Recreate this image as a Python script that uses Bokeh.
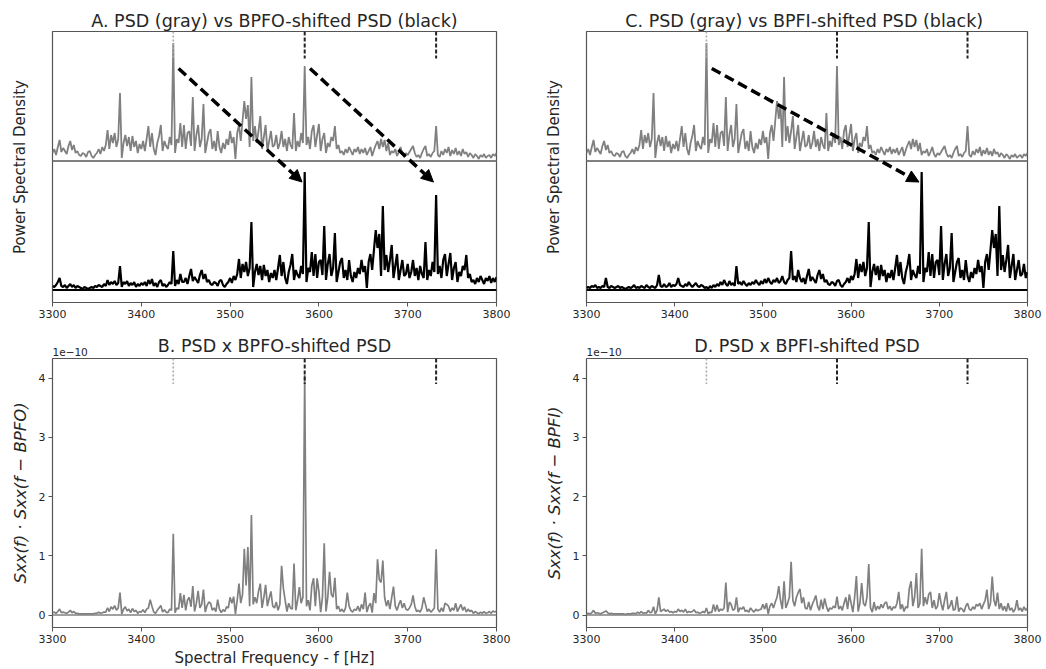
from bokeh.plotting import figure
from bokeh.layouts import gridplot
from bokeh.models import FixedTicker, Arrow, NormalHead, Range1d, Span, ColumnDataSource, Title
from bokeh.embed import file_html
from bokeh.resources import INLINE

# ---------------- data ----------------
freqs = list(range(3300, 3802, 2))          # Hz, 2 Hz grid
x_ticks = [3300, 3400, 3500, 3600, 3700, 3800]
y_ticks_prod = [0, 1, 2, 3, 4]

# PSD (gray), arbitrary units above its baseline
psd = [
    8, 12, 6, 14, 21, 9, 13, 10, 7, 15, 20, 11, 16, 8, 10, 6, 5, 8, 7, 4, 9, 10, 5, 3, 6,
    8, 12, 7, 14, 10, 16, 31, 12, 26, 18, 28, 14, 22, 68, 3, 18, 26, 15, 24, 10, 25, 14, 20, 8, 17,
    12, 20, 10, 22, 35, 14, 28, 12, 6, 18, 25, 36, 10, 20, 15, 12, 24, 16, 118, 8, 22, 18, 38, 14, 36,
    12, 28, 30, 15, 64, 10, 26, 36, 14, 22, 57, 8, 18, 28, 32, 12, 20, 10, 30, 14, 8, 18, 12, 22, 16,
    30, 18, 24, 2, 28, 36, 20, 40, 60, 42, 56, 14, 84, 20, 35, 18, 30, 45, 12, 24, 36, 10, 20, 30, 14,
    16, 26, 12, 18, 30, 14, 22, 10, 24, 16, 12, 48, 10, 20, 14, 28, 18, 95, 16, 24, 12, 30, 36, 14, 26,
    37, 10, 22, 28, 8, 18, 14, 24, 20, 35, 12, 16, 8, 10, 6, 12, 8, 14, 10, 6, 12, 9, 14, 7, 12,
    8, 13, 6, 10, 14, 5, 11, 16, 20, 12, 22, 14, 21, 10, 18, 6, 10, 8, 12, 5, 9, 14, 7, 4, 8,
    6, 9, 12, 15, 8, 4, 6, 3, 8, 12, 15, 5, 7, 4, 8, 10, 35, 6, 4, 10, 6, 12, 8, 14, 5,
    11, 7, 13, 6, 10, 5, 12, 7, 9, 4, 8, 6, 3, 7, 5, 2, 6, 4, 7, 3, 5, 6, 3, 7, 5, 8,
]

# BPFO-shifted PSD (black, panel A)
psd_bpfo = [
    4, 3, 5, 8, 12, 4, 3, 5, 2, 4, 6, 3, 5, 2, 4, 3, 2, 1, 3, 2, 1, 2, 3, 2, 4,
    3, 5, 4, 3, 6, 4, 10, 5, 8, 6, 9, 5, 7, 24, 3, 8, 6, 9, 4, 7, 5, 8, 3, 6, 4,
    7, 5, 8, 4, 10, 6, 11, 4, 7, 3, 8, 10, 4, 6, 3, 5, 8, 6, 39, 4, 10, 6, 16, 8, 8,
    12, 6, 14, 21, 9, 13, 10, 7, 15, 20, 11, 16, 8, 10, 6, 5, 8, 7, 4, 9, 10, 5, 3, 6, 8,
    12, 7, 14, 10, 16, 31, 12, 26, 18, 28, 14, 22, 68, 3, 18, 26, 15, 24, 10, 25, 14, 20, 8, 17, 12,
    20, 10, 22, 35, 14, 28, 12, 6, 18, 25, 36, 10, 20, 15, 12, 24, 16, 118, 8, 22, 18, 38, 14, 36, 12,
    28, 30, 15, 64, 10, 26, 36, 14, 22, 57, 8, 18, 28, 32, 12, 20, 10, 30, 14, 8, 18, 12, 22, 16, 30,
    18, 24, 2, 28, 36, 20, 40, 60, 42, 56, 14, 84, 20, 35, 18, 30, 45, 12, 24, 36, 10, 20, 30, 14, 16,
    26, 12, 18, 30, 14, 22, 10, 24, 16, 12, 48, 10, 20, 14, 28, 18, 95, 16, 24, 12, 30, 36, 14, 26, 37,
    10, 22, 28, 8, 18, 14, 24, 20, 35, 12, 16, 8, 10, 6, 12, 8, 14, 10, 6, 12, 9, 14, 7, 12, 8, 13,
]

# BPFI-shifted PSD (black, panel C)
psd_bpfi = [
    2, 3, 2, 4, 3, 5, 2, 3, 2, 4, 3, 12, 3, 2, 4, 3, 2, 3, 4, 2, 3, 2, 1, 2, 3,
    2, 3, 5, 2, 3, 2, 4, 3, 2, 5, 3, 2, 4, 3, 2, 5, 15, 4, 3, 6, 3, 4, 7, 3, 5,
    4, 6, 12, 5, 4, 3, 6, 4, 8, 5, 3, 5, 7, 4, 3, 5, 4, 2, 3, 1, 4, 2, 5, 3, 6,
    4, 8, 5, 10, 6, 4, 9, 5, 7, 4, 24, 6, 8, 5, 9, 6, 4, 7, 5, 8, 6, 10, 7, 5, 9,
    6, 11, 7, 12, 8, 6, 10, 8, 12, 7, 9, 14, 8, 6, 10, 12, 39, 10, 14, 8, 20, 12, 8, 12, 6,
    14, 21, 9, 13, 10, 7, 15, 20, 11, 16, 8, 10, 6, 5, 8, 7, 4, 9, 10, 5, 3, 6, 8, 12, 7,
    14, 10, 16, 31, 12, 26, 18, 28, 14, 22, 68, 3, 18, 26, 15, 24, 10, 25, 14, 20, 8, 17, 12, 20, 10,
    22, 35, 14, 28, 12, 6, 18, 25, 36, 10, 20, 15, 12, 24, 16, 118, 8, 22, 18, 38, 14, 36, 12, 28, 30,
    15, 64, 10, 26, 36, 14, 22, 57, 8, 18, 28, 32, 12, 20, 10, 30, 14, 8, 18, 12, 22, 16, 30, 18, 24,
    2, 28, 36, 20, 40, 60, 42, 56, 14, 84, 20, 35, 18, 30, 45, 12, 24, 36, 10, 20, 30, 14, 16, 26, 12, 18,
]

# PSD x BPFO-shifted PSD (x 1e-10)
prod_bpfo = [
    0.04, 0.05, 0.03, 0.06, 0.10, 0.04, 0.05, 0.04, 0.03, 0.05, 0.08, 0.04, 0.06, 0.03, 0.03, 0.02, 0.02, 0.02, 0.02, 0.02, 0.02, 0.02, 0.02, 0.02, 0.03,
    0.03, 0.05, 0.03, 0.04, 0.05, 0.05, 0.12, 0.06, 0.14, 0.10, 0.16, 0.08, 0.12, 0.38, 0.02, 0.10, 0.14, 0.07, 0.10, 0.04, 0.11, 0.06, 0.08, 0.03, 0.06,
    0.05, 0.09, 0.04, 0.10, 0.12, 0.26, 0.15, 0.05, 0.03, 0.08, 0.12, 0.16, 0.05, 0.09, 0.05, 0.04, 0.10, 0.08, 1.37, 0.04, 0.12, 0.10, 0.37, 0.12, 0.34,
    0.08, 0.25, 0.30, 0.14, 0.49, 0.06, 0.20, 0.41, 0.12, 0.18, 0.43, 0.05, 0.16, 0.22, 0.20, 0.08, 0.12, 0.06, 0.26, 0.10, 0.04, 0.09, 0.06, 0.14, 0.12,
    0.30, 0.20, 0.31, 0.02, 0.25, 0.53, 0.20, 0.35, 1.12, 0.50, 1.15, 0.15, 1.69, 0.18, 0.30, 0.20, 0.40, 0.53, 0.12, 0.30, 0.51, 0.15, 0.28, 0.40, 0.15,
    0.12, 0.22, 0.08, 0.18, 0.83, 0.45, 0.25, 0.06, 0.20, 0.12, 0.10, 0.87, 0.08, 0.25, 0.47, 0.20, 0.30, 4.05, 0.15, 0.25, 0.08, 0.50, 0.62, 0.15, 0.62,
    0.40, 0.05, 0.30, 1.21, 0.06, 0.30, 0.73, 0.35, 0.30, 0.63, 0.10, 0.15, 0.06, 0.10, 0.05, 0.12, 0.38, 0.15, 0.08, 0.05, 0.10, 0.08, 0.15, 0.06, 0.18,
    0.10, 0.38, 0.05, 0.15, 0.20, 0.04, 0.37, 0.20, 0.94, 0.60, 0.55, 0.92, 0.30, 0.15, 0.25, 0.10, 0.30, 0.48, 0.15, 0.08, 0.18, 0.25, 0.12, 0.20, 0.10,
    0.08, 0.12, 0.18, 0.33, 0.15, 0.06, 0.08, 0.05, 0.12, 0.30, 0.18, 0.06, 0.10, 0.05, 0.08, 0.12, 1.11, 0.10, 0.05, 0.12, 0.06, 0.20, 0.18, 0.15, 0.06,
    0.12, 0.08, 0.20, 0.06, 0.12, 0.18, 0.08, 0.14, 0.05, 0.10, 0.06, 0.08, 0.03, 0.06, 0.04, 0.02, 0.05, 0.03, 0.06, 0.03, 0.04, 0.06, 0.03, 0.07, 0.05, 0.07,
]

# PSD x BPFI-shifted PSD (x 1e-10)
prod_bpfi = [
    0.02, 0.03, 0.02, 0.04, 0.08, 0.03, 0.04, 0.03, 0.02, 0.04, 0.05, 0.07, 0.04, 0.02, 0.03, 0.02, 0.02, 0.02, 0.02, 0.02, 0.02, 0.02, 0.01, 0.02, 0.02,
    0.02, 0.03, 0.03, 0.02, 0.05, 0.03, 0.06, 0.03, 0.04, 0.03, 0.08, 0.04, 0.05, 0.14, 0.02, 0.08, 0.30, 0.06, 0.08, 0.10, 0.06, 0.09, 0.05, 0.06, 0.04,
    0.06, 0.05, 0.10, 0.06, 0.08, 0.05, 0.10, 0.04, 0.06, 0.05, 0.06, 0.09, 0.04, 0.05, 0.03, 0.04, 0.06, 0.04, 0.12, 0.02, 0.05, 0.04, 0.18, 0.06, 0.17,
    0.06, 0.10, 0.08, 0.12, 0.55, 0.05, 0.22, 0.18, 0.08, 0.10, 0.30, 0.05, 0.12, 0.10, 0.14, 0.06, 0.08, 0.05, 0.12, 0.08, 0.05, 0.10, 0.07, 0.09, 0.10,
    0.18, 0.10, 0.20, 0.02, 0.15, 0.20, 0.12, 0.22, 0.30, 0.49, 0.25, 0.10, 0.57, 0.12, 0.20, 0.30, 0.90, 0.25, 0.15, 0.30, 0.38, 0.44, 0.20, 0.30, 0.12,
    0.10, 0.22, 0.08, 0.18, 0.25, 0.33, 0.15, 0.08, 0.26, 0.10, 0.28, 0.15, 0.06, 0.12, 0.10, 0.15, 0.12, 0.31, 0.10, 0.15, 0.08, 0.20, 0.30, 0.10, 0.35,
    0.20, 0.05, 0.30, 0.66, 0.06, 0.20, 0.54, 0.20, 0.15, 0.30, 0.86, 0.12, 0.05, 0.22, 0.08, 0.15, 0.10, 0.18, 0.12, 0.20, 0.22, 0.10, 0.15, 0.08, 0.14,
    0.12, 0.20, 0.39, 0.10, 0.18, 0.06, 0.14, 0.12, 0.45, 0.57, 0.15, 0.30, 0.71, 0.12, 0.20, 1.12, 0.15, 0.30, 0.18, 0.35, 0.39, 0.12, 0.25, 0.10, 0.15,
    0.37, 0.20, 0.08, 0.25, 0.39, 0.10, 0.15, 0.25, 0.08, 0.10, 0.31, 0.06, 0.12, 0.10, 0.05, 0.15, 0.20, 0.10, 0.08, 0.14, 0.10, 0.18, 0.15, 0.20, 0.10,
    0.18, 0.25, 0.43, 0.10, 0.20, 0.65, 0.25, 0.15, 0.38, 0.10, 0.20, 0.08, 0.15, 0.06, 0.20, 0.08, 0.12, 0.05, 0.10, 0.25, 0.08, 0.12, 0.06, 0.14, 0.08, 0.12,
]

# marker frequencies (top of each panel)
dotted_marker_freqs = [3436]
dashed_marker_freqs = [3584, 3732]

# shift arrows (from gray peak to black peak)
arrows_bpfo = [(3436, 3584), (3584, 3732)]
arrows_bpfi = [(3436, 3680)]

# ---------------- styling ----------------
FONT = "DejaVu Sans"
TXT = "#262626"
SPINE = "#555555"
GRAY = "#808080"
GRAY_OFFSET = 129.0
PSD_RANGE = (-12.5, 258.5)
PROD_RANGE = (-0.21, 4.33)


def title_obj(text, size, align, standoff):
    return Title(text=text, align=align, text_font=FONT, text_font_size=size,
                 text_font_style="normal", text_color=TXT, standoff=standoff)


def make_fig(width, height, left, right, top, bottom, yrange):
    p = figure(width=width, height=height, output_backend="svg", toolbar_location=None,
               x_range=Range1d(3300, 3800), y_range=Range1d(*yrange),
               min_border_left=left, min_border_right=right,
               min_border_top=top, min_border_bottom=bottom)
    p.title_location = None
    p.grid.visible = False
    p.outline_line_color = SPINE
    p.outline_line_width = 1.2
    p.background_fill_color = "white"
    p.border_fill_color = None
    xa = p.xaxis[0]
    xa.ticker = FixedTicker(ticks=x_ticks)
    xa.axis_line_color = None
    xa.major_tick_out = 4
    xa.major_tick_in = 0
    xa.minor_tick_line_color = None
    xa.major_tick_line_color = SPINE
    xa.major_label_text_font = FONT
    xa.major_label_text_font_size = "11px"
    xa.major_label_text_color = TXT
    xa.major_label_standoff = 3
    ya = p.yaxis[0]
    ya.axis_line_color = None
    ya.minor_tick_line_color = None
    ya.major_tick_line_color = SPINE
    ya.axis_label_text_color = TXT
    ya.major_label_text_font = FONT
    ya.major_label_text_color = TXT
    return p


def add_markers(p, ytop, length):
    p.segment(x0=dotted_marker_freqs, x1=dotted_marker_freqs,
              y0=[ytop] * len(dotted_marker_freqs), y1=[ytop - length] * len(dotted_marker_freqs),
              line_color="#a8a8a8", line_width=1.6, line_dash="2 2")
    p.segment(x0=dashed_marker_freqs, x1=dashed_marker_freqs,
              y0=[ytop] * len(dashed_marker_freqs), y1=[ytop - length] * len(dashed_marker_freqs),
              line_color="#222222", line_width=2, line_dash="4 2")


def psd_panel(title, shifted, arrows, left, right):
    p = make_fig(523, 330, left, right, 31, 28, PSD_RANGE)
    p.add_layout(title_obj(title, "17.5px", "center", 2), "above")
    ya = p.yaxis[0]
    ya.ticker = FixedTicker(ticks=[])
    ya.major_tick_out = 0
    ya.major_label_standoff = 0
    ya.axis_label = "Power Spectral Density"
    ya.axis_label_text_font = FONT
    ya.axis_label_text_font_size = "15px"
    ya.axis_label_text_font_style = "normal"
    ya.axis_label_standoff = 24
    src = ColumnDataSource(dict(f=freqs, g=[v + GRAY_OFFSET for v in psd], b=shifted))
    p.add_layout(Span(location=GRAY_OFFSET, dimension="width", line_color=GRAY, line_width=1.8))
    p.add_layout(Span(location=0, dimension="width", line_color="black", line_width=1.8))
    p.line("f", "g", source=src, line_color=GRAY, line_width=1.8)
    p.line("f", "b", source=src, line_color="black", line_width=2.2)
    add_markers(p, PSD_RANGE[1], 27)
    for f_src, f_dst in arrows:
        p.add_layout(Arrow(end=NormalHead(size=12, fill_color="black", line_color="black", line_width=1),
                           x_start=f_src + 6, y_start=221.5, x_end=f_dst - 3, y_end=108,
                           line_color="black", line_width=3.5, line_dash="10 5"))
    return p


def prod_panel(title, values, ylabel, left, right, xlabel=None):
    p = make_fig(523, 339, left, right, 28, 41, PROD_RANGE)
    # offset text next to the frame, main title stacked over it (pulled down onto the same line)
    p.add_layout(title_obj("1e\u221210", "10.5px", "left", 6), "above")
    p.add_layout(title_obj(title, "17.5px", "center", -26), "above")
    ya = p.yaxis[0]
    ya.ticker = FixedTicker(ticks=y_ticks_prod)
    ya.major_tick_out = 4
    ya.major_tick_in = 0
    ya.major_label_text_font_size = "11px"
    ya.major_label_standoff = 3
    ya.axis_label = ylabel
    ya.axis_label_text_font = FONT
    ya.axis_label_text_font_size = "16.5px"
    ya.axis_label_text_font_style = "italic"
    ya.axis_label_standoff = 6
    if xlabel:
        xa = p.xaxis[0]
        xa.axis_label = xlabel
        xa.axis_label_text_font = FONT
        xa.axis_label_text_font_size = "15px"
        xa.axis_label_text_font_style = "normal"
        xa.axis_label_text_color = TXT
        xa.axis_label_standoff = 3
    p.add_layout(Span(location=0, dimension="width", line_color=GRAY, line_width=1.6))
    src = ColumnDataSource(dict(f=freqs, v=values))
    p.line("f", "v", source=src, line_color=GRAY, line_width=1.7)
    add_markers(p, PROD_RANGE[1], 0.43)
    return p


pA = psd_panel("A. PSD (gray) vs BPFO-shifted PSD (black)", psd_bpfo, arrows_bpfo, 52, 27)
pC = psd_panel("C. PSD (gray) vs  BPFI-shifted PSD (black)", psd_bpfi, arrows_bpfi, 63, 19)
pB = prod_panel("B. PSD x BPFO-shifted PSD", prod_bpfo, "Sxx(f) \u00b7 Sxx(f \u2212 BPFO)", 52, 27,
                xlabel="Spectral Frequency - f [Hz]")
pD = prod_panel("D. PSD x BPFI-shifted PSD", prod_bpfi, "Sxx(f) \u00b7 Sxx(f \u2212 BPFI)", 63, 19)

grid = gridplot([[pA, pC], [pB, pD]], toolbar_location=None)
open("out.html", "w").write(file_html(grid, INLINE))
